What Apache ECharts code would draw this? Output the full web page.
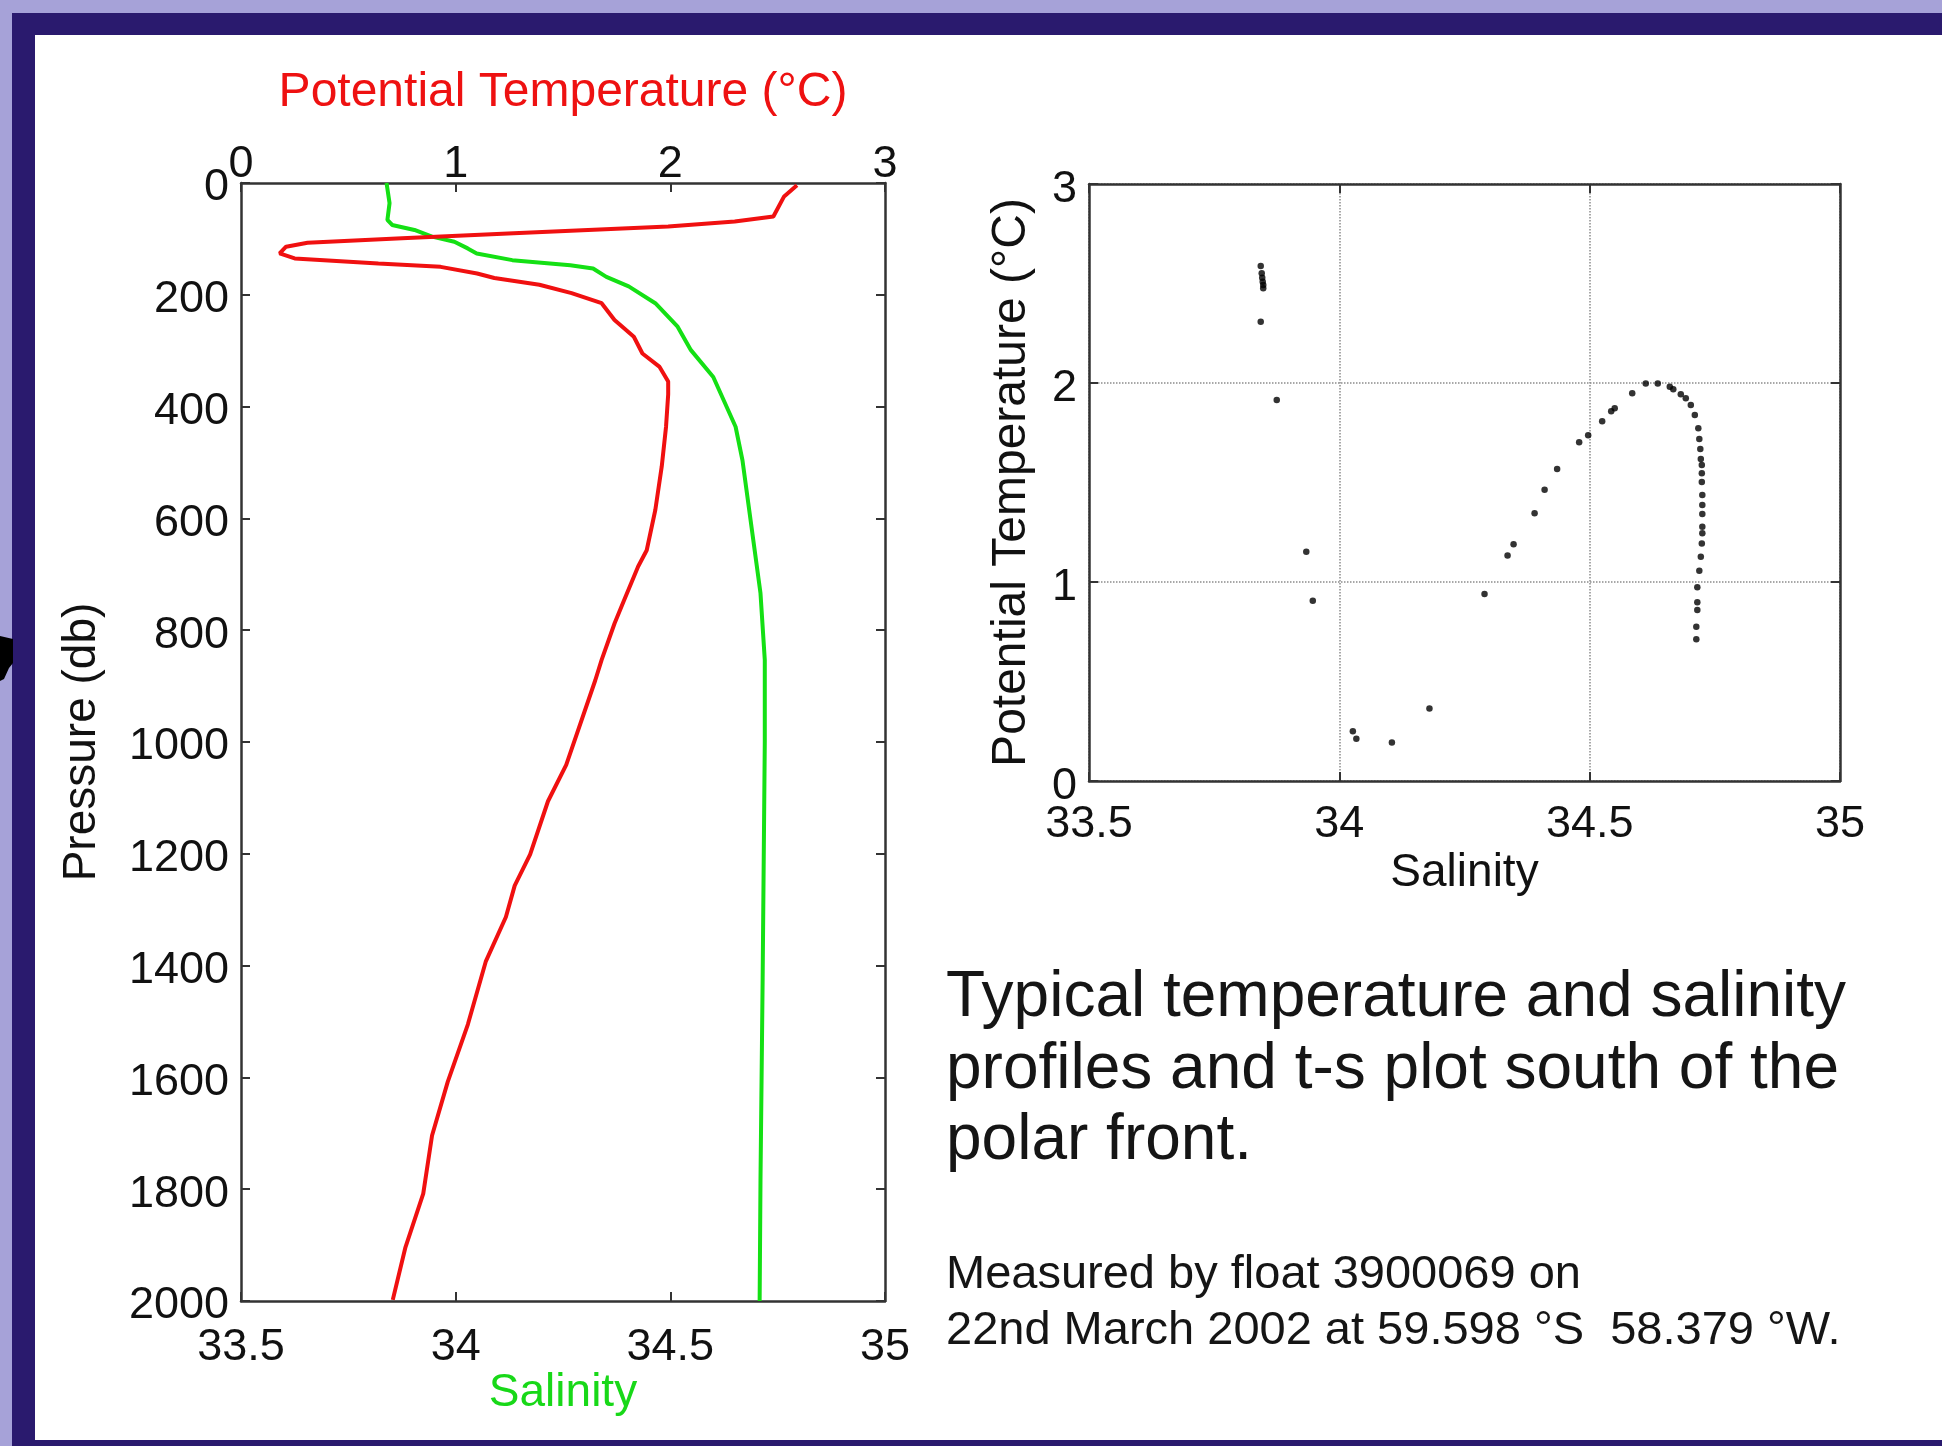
<!DOCTYPE html>
<html>
<head>
<meta charset="utf-8">
<title>Float 3900069 profiles</title>
<script src="https://cdn.jsdelivr.net/npm/echarts@6/dist/echarts.min.js"></script>
<style>
  html, body { margin: 0; padding: 0; background: #a6a2d8; }
  #main { width: 1942px; height: 1446px; }
</style>
</head>
<body>
<div id="main"></div>
<script>
// potential temperature profile (pressure in db, temperature in degC)
var tempPressure = [4, 24, 60, 69, 78, 90, 99, 107, 114, 126, 135, 144, 150, 162, 170, 182, 197, 215, 245, 275,
  305, 329, 355, 378, 436, 507, 585, 657, 686, 746, 788, 853, 890, 1041, 1106, 1201, 1257, 1313, 1393, 1505,
  1608, 1704, 1808, 1904, 1998];
var tempValues = [2.59, 2.53, 2.48, 2.30, 1.99, 1.27, 0.75, 0.31, 0.21, 0.18, 0.25, 0.64, 0.93, 1.10, 1.18, 1.39, 1.54, 1.68, 1.74, 1.83,
  1.87, 1.95, 1.99, 1.99, 1.98, 1.96, 1.93, 1.89, 1.85, 1.785, 1.74, 1.68, 1.65, 1.515, 1.43, 1.347, 1.275, 1.234, 1.14, 1.057,
  0.963, 0.89, 0.849, 0.766, 0.707];

// salinity profile
var salPressure = [0, 36, 66, 75, 84, 96, 105, 117, 126, 138, 147, 153, 168, 185, 215, 257, 299, 347, 436, 496,
  615, 734, 853, 1000, 1425, 1784, 2000];
var salValues = [33.839, 33.846, 33.841, 33.852, 33.904, 33.945, 33.997, 34.028, 34.049, 34.132, 34.267, 34.320, 34.351, 34.403, 34.465, 34.517, 34.548, 34.600, 34.652, 34.668,
  34.689, 34.710, 34.720, 34.720, 34.715, 34.710, 34.708];

// t-s scatter
var tsSalinity = [33.843, 33.845, 33.846, 33.847, 33.848, 33.848, 33.843, 33.875, 33.934, 33.947, 34.027, 34.034, 34.105, 34.180,
  34.290, 34.336, 34.348, 34.390, 34.410, 34.435, 34.479, 34.497, 34.525, 34.543, 34.550, 34.585, 34.612, 34.636, 34.660, 34.667,
  34.682, 34.692, 34.702, 34.710, 34.717, 34.719, 34.721, 34.722, 34.724, 34.724, 34.724, 34.725, 34.725, 34.725, 34.725, 34.725,
  34.724, 34.722, 34.719, 34.715, 34.715, 34.715, 34.713, 34.713];
var tsTemp = [2.588, 2.551, 2.529, 2.509, 2.492, 2.476, 2.308, 1.915, 1.152, 0.906, 0.25, 0.212, 0.193, 0.364,
  0.94, 1.133, 1.19, 1.346, 1.464, 1.568, 1.702, 1.737, 1.808, 1.858, 1.873, 1.948, 1.998, 1.998, 1.981, 1.968,
  1.943, 1.923, 1.889, 1.839, 1.772, 1.719, 1.668, 1.618, 1.588, 1.546, 1.503, 1.437, 1.387, 1.342, 1.278, 1.245,
  1.194, 1.127, 1.057, 0.973, 0.898, 0.859, 0.775, 0.712];

var font = '"Liberation Sans", Arial, Helvetica, sans-serif';
var myChart = echarts.init(document.getElementById('main'));

function zip(xs, ys) {
  var out = [];
  for (var i = 0; i < xs.length; i++) out.push([xs[i], ys[i]]);
  return out;
}

var boxLine = { show: true, onZero: false, lineStyle: { color: '#333333', width: 2.5 } };
var inTick = { show: true, inside: true, length: 9, lineStyle: { color: '#333333', width: 2 } };
function label(margin, extra) {
  var l = { show: true, margin: margin, color: '#111', fontSize: 45, fontFamily: font,
    showMinLabel: true, showMaxLabel: true,
    formatter: function (v) { return String(v); } };
  return Object.assign(l, extra || {});
}
var dotted = { show: true, lineStyle: { type: 'dotted', color: '#8c8c8c', width: 1.5 } };

var option = {
  animation: false,
  grid: [
    { left: 241, top: 183, width: 644, height: 1118, outerBoundsMode: 'none' },
    { left: 1089, top: 184, width: 751, height: 597, outerBoundsMode: 'none' }
  ],
  xAxis: [
    {
      gridIndex: 0, type: 'value', position: 'bottom', min: 33.5, max: 35, interval: 0.5,
      axisLine: boxLine, axisTick: inTick, splitLine: { show: false }, axisLabel: label(24),
      name: 'Salinity', nameLocation: 'middle', nameGap: 69, nameMoveOverlap: false,
      nameTextStyle: { color: '#18d818', fontSize: 46, fontFamily: font }
    },
    {
      gridIndex: 0, type: 'value', position: 'top', min: 0, max: 3, interval: 1,
      axisLine: boxLine, axisTick: inTick, splitLine: { show: false }, axisLabel: label(-4),
      name: 'Potential Temperature (°C)', nameLocation: 'middle', nameGap: 66,
      nameTextStyle: { color: '#ee1111', fontSize: 48, fontFamily: font }
    },
    {
      gridIndex: 1, type: 'value', position: 'bottom', min: 33.5, max: 35, interval: 0.5,
      axisLine: boxLine, axisTick: inTick, splitLine: dotted, axisLabel: label(21),
      name: 'Salinity', nameLocation: 'middle', nameGap: 69,
      nameTextStyle: { color: '#111', fontSize: 46, fontFamily: font }
    },
    {
      gridIndex: 1, type: 'value', position: 'top', min: 33.5, max: 35, interval: 0.5,
      axisLine: boxLine, axisTick: inTick, splitLine: { show: false }, axisLabel: { show: false }
    }
  ],
  yAxis: [
    {
      gridIndex: 0, type: 'value', position: 'left', inverse: true, min: 0, max: 2000, interval: 200,
      axisLine: boxLine, axisTick: inTick, splitLine: { show: false },
      axisLabel: label(12, { verticalAlign: 'top', lineHeight: 10 }),
      name: 'Pressure (db)', nameLocation: 'middle', nameGap: 136,
      nameTextStyle: { color: '#111', fontSize: 46, fontFamily: font }
    },
    {
      gridIndex: 0, type: 'value', position: 'right', inverse: true, min: 0, max: 2000, interval: 200,
      axisLine: boxLine, axisTick: inTick, splitLine: { show: false }, axisLabel: { show: false }
    },
    {
      gridIndex: 1, type: 'value', position: 'left', min: 0, max: 3, interval: 1,
      axisLine: boxLine, axisTick: inTick, splitLine: dotted,
      axisLabel: label(12, { verticalAlign: 'top', lineHeight: 12 }),
      name: 'Potential Temperature (°C)', nameLocation: 'middle', nameGap: 53,
      nameTextStyle: { color: '#111', fontSize: 48, fontFamily: font }
    },
    {
      gridIndex: 1, type: 'value', position: 'right', min: 0, max: 3, interval: 1,
      axisLine: boxLine, axisTick: inTick, splitLine: { show: false }, axisLabel: { show: false }
    }
  ],
  series: [
    {
      name: 'Potential Temperature', type: 'line', xAxisIndex: 1, yAxisIndex: 0,
      data: zip(tempValues, tempPressure), showSymbol: false, symbol: 'none',
      lineStyle: { color: '#f01010', width: 4 }, z: 3
    },
    {
      name: 'Salinity', type: 'line', xAxisIndex: 0, yAxisIndex: 0,
      data: zip(salValues, salPressure), showSymbol: false, symbol: 'none',
      lineStyle: { color: '#14e014', width: 4 }, z: 2
    },
    {
      name: 'T-S', type: 'scatter', xAxisIndex: 2, yAxisIndex: 2,
      data: zip(tsSalinity, tsTemp), symbol: 'circle', symbolSize: 6.5,
      itemStyle: { color: '#000' }
    }
  ],
  graphic: [
    { type: 'rect', silent: true, z: -20, shape: { x: 12, y: 13, width: 1930, height: 1433 }, style: { fill: '#2a1a6e' } },
    { type: 'rect', silent: true, z: -19, shape: { x: 35, y: 35, width: 1907, height: 1405 }, style: { fill: '#ffffff' } },
    { type: 'polygon', silent: true, z: -18,
      shape: { points: [[0, 636], [13, 639], [13, 663], [9, 668], [4, 679], [0, 681]] }, style: { fill: '#000' } },
    {
      type: 'text', x: 946, y: 963, z: 5,
      style: {
        text: 'Typical temperature and salinity\nprofiles and t-s plot south of the\npolar front.',
        fontSize: 64, fontFamily: font, fill: '#151515', lineHeight: 71.5, verticalAlign: 'top'
      }
    },
    {
      type: 'text', x: 946, y: 1247, z: 5,
      style: {
        text: 'Measured by float 3900069 on\n22nd March 2002 at 59.598 °S  58.379 °W.',
        fontSize: 47, fontFamily: font, fill: '#151515', lineHeight: 56, verticalAlign: 'top'
      }
    }
  ]
};

myChart.setOption(option);
</script>
</body>
</html>
